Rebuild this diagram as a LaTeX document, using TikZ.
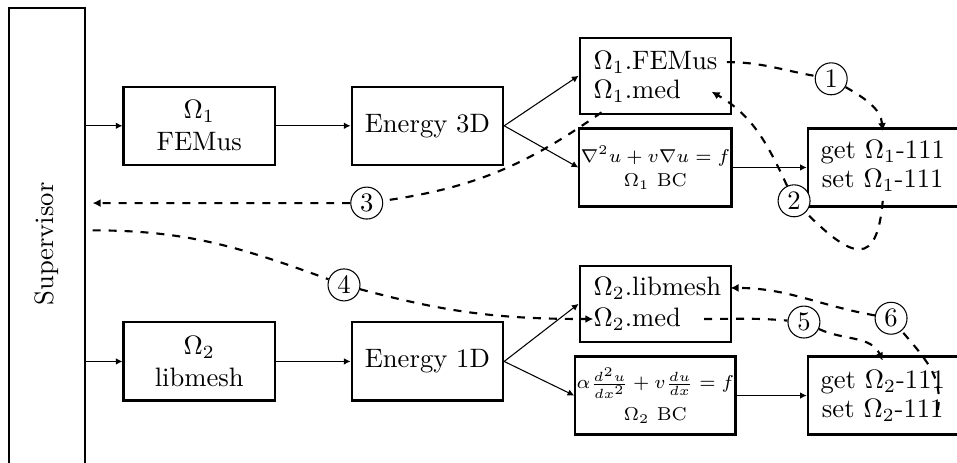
\documentclass[tikz,border=0pt]{standalone}
\usepackage{amsmath,amssymb}
\usepackage{tikz}
\usetikzlibrary{arrows.meta,calc}
\tikzset{
  block/.style={
    draw,
    thick,
    minimum width=2cm,
    minimum height=1.03cm,
    align=center
  },
  eqblock/.style={
    block,
    inner sep=0.5pt,
    font=\scriptsize
  },
  stepnum/.style={
    shape=circle,
    draw,
    fill=white,
    inner sep=0.5pt,
    minimum size=12pt
  },
  link/.style={
    -{Latex[length=2.5pt,width=2.5pt]}
  },
  flow/.style={
    thick,
    dashed,
    -{Latex[length=3pt,width=3pt]}
  }
}

\begin{document}
\begin{tikzpicture}
        \useasboundingbox (0,0) rectangle (12.63,-6.11);
        % supervisor
        \node[draw, thick, minimum width=1cm, minimum height=6.23cm] (sup) at (0.62,-3.22) {\rotatebox{90}{Supervisor}};
        % upper row
        \node[block] (f1) at (2.63,-1.66) {$\Omega_1$\\FEMus};
        \node[block] (e3) at (5.64,-1.66) {Energy 3D};
        \node[block, minimum height=1cm] (m1) at (8.65,-1.00) {};
        \node[anchor=west] (fem1) at (7.71,-0.82) {$\Omega_1$.FEMus};
        \node[anchor=west] (med1) at (7.71,-1.21) {$\Omega_1$.med};
        \node[eqblock] (bc1) at (8.65,-2.21) {$\nabla^2 u + v\nabla u = f$\\[1pt]$\Omega_1$ BC};
        \node[block] (gs1) at (11.66,-2.21) {};
        \node (get1) at (11.65,-2.01) {get $\Omega_1$-111};
        \node (set1) at (11.65,-2.38) {set $\Omega_1$-111};
        % lower row
        \node[block] (f2) at (2.63,-4.77) {$\Omega_2$\\libmesh};
        \node[block] (e1) at (5.64,-4.77) {Energy 1D};
        \node[block, minimum height=1cm] (m2) at (8.65,-4.01) {};
        \node[anchor=west] (lib2) at (7.71,-3.80) {$\Omega_2$.libmesh};
        \node[anchor=west] (med2) at (7.71,-4.21) {$\Omega_2$.med};
        \node[eqblock] (bc2) at (8.65,-5.22) {{\fontsize{6.6}{8}\selectfont$\alpha\frac{d^2u}{dx^2}+v\frac{du}{dx}=f$}\\[2.5pt]$\Omega_2$ BC};
        \node[block] (gs2) at (11.66,-5.22) {};
        \node (get2) at (11.65,-5.04) {get $\Omega_2$-111};
        \node (set2) at (11.65,-5.41) {set $\Omega_2$-111};
        % steps
        \node[stepnum] (c1) at (10.97,-1.04) {1};
        \node[stepnum] (c2) at (10.48,-2.65) {2};
        \node[stepnum] (c3) at (4.84,-2.68) {3};
        \node[stepnum] (c4) at (4.54,-3.76) {4};
        \node[stepnum] (c5) at (10.61,-4.25) {5};
        \node[stepnum] (c6) at (11.76,-4.20) {6};
        % solid links
        \draw[link] (sup.east |- f1) -- (f1);
        \draw[link] (f1) -- (e3);
        \draw[link] (e3.east) -- (m1.west);
        \draw[link] (e3.east) -- (bc1.west);
        \draw[link] (bc1) -- (gs1);
        \draw[link] (sup.east |- f2) -- (f2);
        \draw[link] (f2) -- (e1);
        \draw[link] (e1.east) -- (m2.west);
        \draw[link] (e1.east) -- (bc2.west);
        \draw[link] (bc2) -- (gs2);
        % dashed steps
        \draw[flow] (fem1.east) to[out=0,in=170] (c1) to[out=-30,in=95] (get1.north);
        \draw[flow] (set1.south) to[out=-95,in=-45,looseness=2.2] (c2) to[out=115,in=-30] ([xshift=0.28cm]med1.east);
        \draw[flow, shorten >=2.5pt] (med1.210) to[out=215,in=8] (c3) -- (sup.east |- c3);
        \draw[flow] ([xshift=2.5pt,yshift=0.18cm]sup.east) to[out=0,in=160] (c4) to[out=-15,in=180] ([xshift=0.12cm]med2.west);
        \draw[flow] ([xshift=0.18cm]med2.east) to[out=0,in=175] (c5) to[out=-25,in=115] (get2.north);
        \draw[flow] ([xshift=-0.2cm]set2.east) to[out=80,in=-50] (c6) to[out=170,in=0] (lib2.east);
\end{tikzpicture}
\end{document}
